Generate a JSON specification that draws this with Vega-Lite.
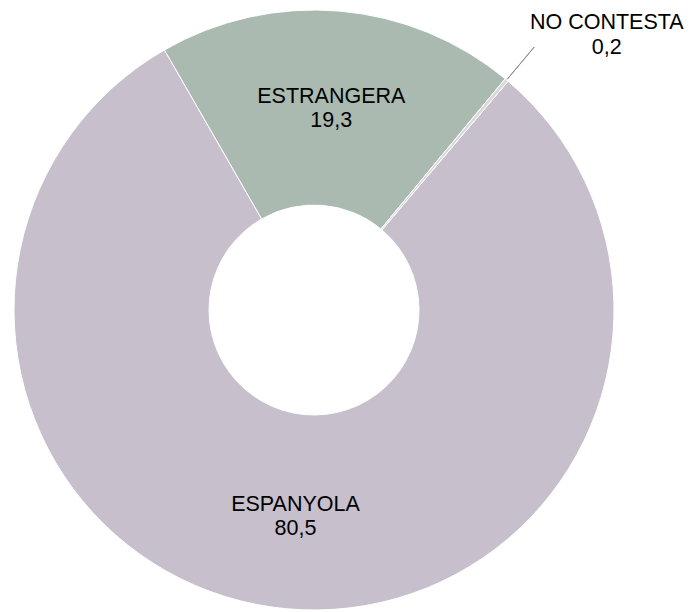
{
  "$schema": "https://vega.github.io/schema/vega-lite/v6.json",
  "width": 628,
  "height": 620,
  "padding": {"left": 0, "top": 0, "right": 63, "bottom": 0},
  "autosize": {"type": "none"},
  "background": "white",
  "config": {"view": {"stroke": null}},
  "data": {
    "values": [
      {"cat": "ESPANYOLA", "value": 80.5},
      {"cat": "ESTRANGERA", "value": 19.3},
      {"cat": "NO CONTESTA", "value": 0.2}
    ]
  },
  "transform": [
    {"calculate": "datum.cat + '\\n' + replace(format(datum.value, '.1f'), '.', ',')", "as": "label"},
    {"window": [{"op": "sum", "field": "value", "as": "cum"}], "sort": [{"field": "cat", "order": "ascending"}], "frame": [null, 0]},
    {"calculate": "datum.cum - datum.value / 2", "as": "mid"}
  ],
  "encoding": {
    "theta": {"field": "value", "type": "quantitative", "stack": true, "scale": {"domain": [0, 100], "range": [0.7034, 6.9866]}},
    "order": {"field": "cat", "sort": "ascending"}
  },
  "layer": [
    {
      "mark": {"type": "arc", "radius": 300, "radius2": 105, "stroke": "white", "strokeWidth": 1},
      "encoding": {
        "color": {
          "field": "cat", "type": "nominal", "legend": null,
          "scale": {"domain": ["ESPANYOLA", "ESTRANGERA", "NO CONTESTA"], "range": ["#c7bfcb", "#aabab0", "#d9d9d9"]}
        }
      }
    },
    {
      "transform": [{"filter": "datum.cat === 'NO CONTESTA'"}],
      "mark": {"type": "arc", "radius": 343, "radius2": 301, "stroke": "#8c8c8c", "strokeWidth": 1, "fill": "white", "fillOpacity": 0},
      "encoding": {
        "theta": {"field": "mid", "type": "quantitative", "stack": null},
        "theta2": {"field": "mid"}
      }
    },
    {
      "mark": {"type": "text", "radius": 204.5, "dy": -9, "font": "Liberation Sans", "fontSize": 21.5, "lineBreak": "\n", "lineHeight": 24, "align": "center", "baseline": "middle", "color": "black"},
      "encoding": {
        "detail": {"field": "cat"},
        "text": {"field": "label"},
        "opacity": {"condition": {"test": "datum.cat !== 'NO CONTESTA'", "value": 1}, "value": 0}
      }
    },
    {
      "mark": {"type": "text", "radius": 400, "dx": 36, "dy": 20, "font": "Liberation Sans", "fontSize": 21.5, "lineBreak": "\n", "lineHeight": 25, "align": "center", "baseline": "middle", "color": "black"},
      "encoding": {
        "detail": {"field": "cat"},
        "text": {"field": "label"},
        "opacity": {"condition": {"test": "datum.cat === 'NO CONTESTA'", "value": 1}, "value": 0}
      }
    }
  ]
}
